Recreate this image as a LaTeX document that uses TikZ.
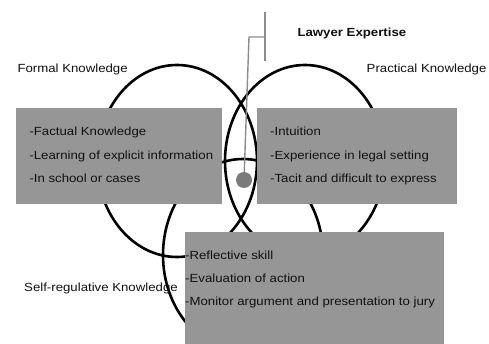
\documentclass[tikz,border=0pt]{standalone}
\usepackage{fontspec}
\setmainfont{Liberation Sans}[FakeStretch=1.12]
\definecolor{boxgray}{HTML}{969696}
\definecolor{dotgray}{HTML}{7A7A7A}
\definecolor{linegray}{HTML}{8C8C8C}
\definecolor{txt}{HTML}{111111}
\begin{document}
\begin{tikzpicture}[x=1pt,y=-1pt,
  ring/.style={draw=black,line width=2.6pt},
  greybox/.style={fill=boxgray,draw=none,anchor=north west,inner sep=0pt},
  item/.style={anchor=base west,inner sep=0pt,text=txt,font=\fontsize{11.8}{14}\selectfont},
  label/.style={anchor=base west,inner sep=0pt,text=txt,font=\fontsize{11.8}{14}\selectfont},
  callout/.style={draw=linegray,line width=1.4pt}]
\useasboundingbox (0,0) rectangle (489,344);
\fill[white] (0,0) rectangle (489,344);
% ellipses
\draw[ring] (177,161) ellipse [x radius=80pt, y radius=96pt];
\draw[ring] (305,161) ellipse [x radius=80pt, y radius=96pt];
\draw[ring] (243,255) ellipse [x radius=80pt, y radius=96pt];
% boxes
\node[greybox,minimum width=206pt,minimum height=96pt] (formalbox) at (16,108) {};
\node[greybox,minimum width=200pt,minimum height=96pt] (practbox) at (257,108) {};
\node[greybox,minimum width=259pt,minimum height=116pt] (selfbox) at (185,232) {};
% box texts
\node[item] (f1) at (29.3,135.7) {-Factual Knowledge};
\node[item] (f2) at (29.3,159.2) {-Learning of explicit information};
\node[item] (f3) at (29.3,183.0) {-In school or cases};
\node[item] (p1) at (270,135.7) {-Intuition};
\node[item] (p2) at (270,159.2) {-Experience in legal setting};
\node[item] (p3) at (270,183.0) {-Tacit and difficult to express};
\node[item] (s1) at (185,259.5) {-Reflective skill};
\node[item] (s2) at (185,282.8) {-Evaluation of action};
\node[item] (s3) at (185,305.8) {-Monitor argument and presentation to jury};
% labels
\node[label] (formal) at (17.3,72.7) {Formal Knowledge};
\node[label] (pract) at (366.5,72.7) {Practical Knowledge};
\node[label] (selfreg) at (24,291.5) {Self-regulative Knowledge};
\node[label,font=\fontsize{11.8}{14}\selectfont\bfseries] (lawyer) at (297.3,36.7) {Lawyer Expertise};
% callout
\node[circle,fill=dotgray,minimum size=16pt,inner sep=0pt] (dot) at (244,180) {};
\coordinate (btop) at (265,12);
\coordinate (bbot) at (265,61);
\coordinate (bmid) at (265,37);
\coordinate (elbow) at (249,37);
\draw[callout] (btop) -- (bbot);
\draw[callout] (bmid) -- (elbow) -- (dot);
\end{tikzpicture}
\end{document}
